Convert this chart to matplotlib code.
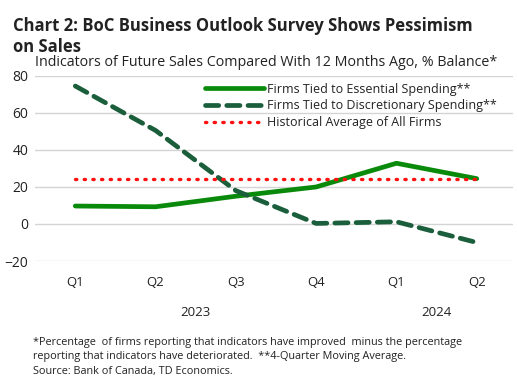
import matplotlib.pyplot as plt

quarters = ['Q1', 'Q2', 'Q3', 'Q4', 'Q1', 'Q2']
years = ['2023', '2024']
year_pos = [1.5, 4.5]
essential = [9.7, 9.3, 15.0, 20.0, 32.8, 24.5]
discretionary = [74.5, 50.5, 18.0, 0.3, 1.2, -10.0]
historical = [24.5] * 6

plt.rcParams['font.family'] = ['Open Sans', 'DejaVu Sans']
txt = '#222222'

fig = plt.figure(figsize=(5.17, 3.85), dpi=100)
ax = fig.add_axes([0.068, 0.322, 0.924, 0.481])

x = list(range(len(quarters)))
ax.plot(x, essential, color='#0a8a0a', lw=3.4, solid_capstyle='round',
        label='Firms Tied to Essential Spending**')
ax.plot(x, discretionary, color='#1b5e3b', lw=3.4, dashes=(2.8, 1.7),
        dash_capstyle='round', label='Firms Tied to Discretionary Spending**')
ax.plot(x, historical, color='#ff1010', lw=2.4, linestyle=(0, (0.4, 2.2)),
        dash_capstyle='round', label='Historical Average of All Firms')

ax.set_xlim(-0.5, 5.45)
ax.set_ylim(-20, 80)
ax.set_yticks([-20, 0, 20, 40, 60, 80])
ax.grid(axis='y', color='#d4d4d4', lw=1)
ax.set_axisbelow(True)
for s in ax.spines.values():
    s.set_visible(False)
ax.tick_params(length=0, colors=txt)
ax.tick_params(axis='y', labelsize=10, pad=5)
ax.set_xticks(x)
ax.set_xticklabels(quarters, fontsize=9.5)
ax.tick_params(axis='x', pad=11)

for yr, xp in zip(years, year_pos):
    ax.text(xp, -0.276, yr, transform=ax.get_xaxis_transform(), ha='center',
            va='center', fontsize=9.5, color=txt)

ax.legend(loc='upper left', bbox_to_anchor=(0.337, 1.01), frameon=False, fontsize=9.0,
          handlelength=4.7, handletextpad=0.25, labelspacing=0.3, borderpad=0.2,
          labelcolor=txt)

fig.text(0.025, 0.955, 'Chart 2: BoC Business Outlook Survey Shows Pessimism\non Sales',
         fontsize=12.0, fontweight='bold', va='top', color=txt, linespacing=1.2)
fig.text(0.068, 0.837, 'Indicators of Future Sales Compared With 12 Months Ago, % Balance*',
         fontsize=10.3, va='center', color=txt)
fig.text(0.064, 0.022,
         '*Percentage  of firms reporting that indicators have improved  minus the percentage\n'
         'reporting that indicators have deteriorated.  **4-Quarter Moving Average.\n'
         'Source: Bank of Canada, TD Economics.',
         fontsize=7.8, va='bottom', color=txt, linespacing=1.4)

fig.savefig('out.png', dpi=100)
